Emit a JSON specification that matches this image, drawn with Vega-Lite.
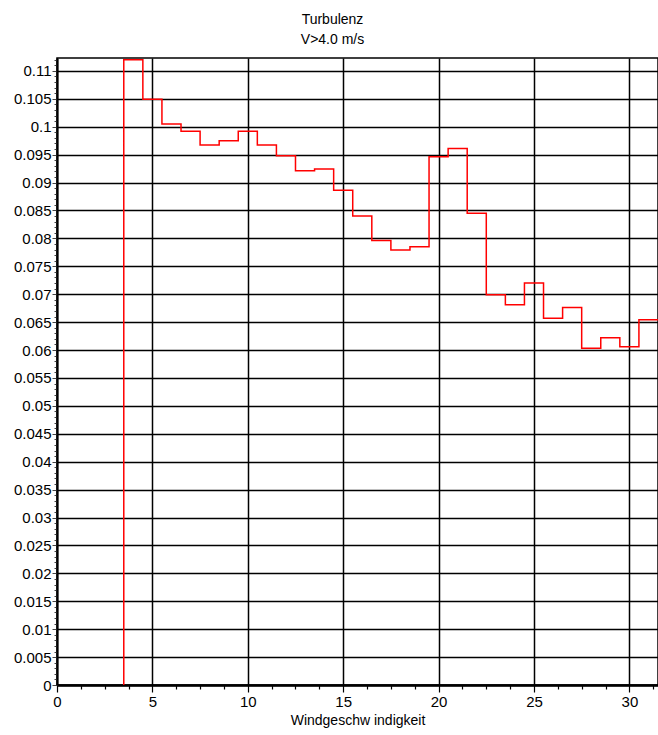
{
  "$schema": "https://vega.github.io/schema/vega-lite/v6.json",
  "autosize": "none",
  "width": 601,
  "height": 627,
  "padding": {"left": 57, "top": 58, "right": 0, "bottom": 50},
  "background": "white",
  "config": {
    "view": {"stroke": "black", "strokeWidth": 1.5},
    "font": "Liberation Sans"
  },
  "title": {
    "text": ["Turbulenz", "V>4.0 m/s"],
    "fontSize": 14,
    "fontWeight": "normal",
    "font": "Liberation Sans",
    "color": "black",
    "anchor": "middle",
    "dx": -25,
    "offset": 6,
    "lineHeight": 20
  },
  "data": {
    "values": [
      {"i": 0, "x": 3.5, "y": 0},
      {"i": 1, "x": 3.5, "y": 0.1120},
      {"i": 2, "x": 4.5, "y": 0.1049},
      {"i": 3, "x": 5.5, "y": 0.1005},
      {"i": 4, "x": 6.5, "y": 0.0992},
      {"i": 5, "x": 7.5, "y": 0.0967},
      {"i": 6, "x": 8.5, "y": 0.0975},
      {"i": 7, "x": 9.5, "y": 0.0992},
      {"i": 8, "x": 10.5, "y": 0.0967},
      {"i": 9, "x": 11.5, "y": 0.0948},
      {"i": 10, "x": 12.5, "y": 0.0921},
      {"i": 11, "x": 13.5, "y": 0.0924},
      {"i": 12, "x": 14.5, "y": 0.0886},
      {"i": 13, "x": 15.5, "y": 0.0840},
      {"i": 14, "x": 16.5, "y": 0.0796},
      {"i": 15, "x": 17.5, "y": 0.0779},
      {"i": 16, "x": 18.5, "y": 0.0785},
      {"i": 17, "x": 19.5, "y": 0.0946},
      {"i": 18, "x": 20.5, "y": 0.0961},
      {"i": 19, "x": 21.5, "y": 0.0845},
      {"i": 20, "x": 22.5, "y": 0.0699},
      {"i": 21, "x": 23.5, "y": 0.0681},
      {"i": 22, "x": 24.5, "y": 0.0720},
      {"i": 23, "x": 25.5, "y": 0.0657},
      {"i": 24, "x": 26.5, "y": 0.0676},
      {"i": 25, "x": 27.5, "y": 0.0603},
      {"i": 26, "x": 28.5, "y": 0.0622},
      {"i": 27, "x": 29.5, "y": 0.0606},
      {"i": 28, "x": 30.5, "y": 0.0654},
      {"i": 29, "x": 31.5, "y": 0.0654}
    ]
  },
  "mark": {"type": "line", "interpolate": "step-after", "color": "#ff0000", "strokeWidth": 1.5, "clip": true},
  "encoding": {
    "order": {"field": "i", "type": "quantitative"},
    "x": {
      "field": "x",
      "type": "quantitative",
      "scale": {"domain": [0, 31.5], "nice": false, "zero": false},
      "axis": {
        "title": "Windgeschw indigkeit",
        "titleFontSize": 14,
        "titleFontWeight": "normal",
        "titleColor": "black",
        "titleFont": "Liberation Sans",
        "titlePadding": 4,
        "values": [0, 1.25, 2.5, 3.75, 5, 6.25, 7.5, 8.75, 10, 11.25, 12.5, 13.75, 15, 16.25, 17.5, 18.75, 20, 21.25, 22.5, 23.75, 25, 26.25, 27.5, 28.75, 30, 31.25],
        "labelExpr": "datum.value % 5 == 0 ? format(datum.value, 'd') : ''",
        "labelFontSize": 15,
        "labelColor": "black",
        "labelFont": "Liberation Sans",
        "labelPadding": 2,
        "labelFlush": false,
        "labelOverlap": false,
        "grid": true,
        "gridColor": "black",
        "gridWidth": 1.5,
        "gridOpacity": {"condition": {"test": "datum.value % 5 == 0", "value": 1}, "value": 0},
        "tickColor": "black",
        "tickSize": {"condition": {"test": "datum.value % 5 == 0", "value": 7}, "value": 4},
        "tickWidth": 1.2,
        "domainColor": "black",
        "domainWidth": 2.5
      }
    },
    "y": {
      "field": "y",
      "type": "quantitative",
      "scale": {"domain": [0, 0.1123], "nice": false, "zero": false},
      "axis": {
        "title": null,
        "values": [0, 0.001, 0.002, 0.003, 0.004, 0.005, 0.006, 0.007, 0.008, 0.009, 0.01, 0.011, 0.012, 0.013, 0.014, 0.015, 0.016, 0.017, 0.018, 0.019, 0.02, 0.021, 0.022, 0.023, 0.024, 0.025, 0.026, 0.027, 0.028, 0.029, 0.03, 0.031, 0.032, 0.033, 0.034, 0.035, 0.036, 0.037, 0.038, 0.039, 0.04, 0.041, 0.042, 0.043, 0.044, 0.045, 0.046, 0.047, 0.048, 0.049, 0.05, 0.051, 0.052, 0.053, 0.054, 0.055, 0.056, 0.057, 0.058, 0.059, 0.06, 0.061, 0.062, 0.063, 0.064, 0.065, 0.066, 0.067, 0.068, 0.069, 0.07, 0.071, 0.072, 0.073, 0.074, 0.075, 0.076, 0.077, 0.078, 0.079, 0.08, 0.081, 0.082, 0.083, 0.084, 0.085, 0.086, 0.087, 0.088, 0.089, 0.09, 0.091, 0.092, 0.093, 0.094, 0.095, 0.096, 0.097, 0.098, 0.099, 0.1, 0.101, 0.102, 0.103, 0.104, 0.105, 0.106, 0.107, 0.108, 0.109, 0.11, 0.111, 0.112],
        "labelExpr": "abs(datum.value / 0.005 - round(datum.value / 0.005)) < 0.001 ? format(datum.value, '.3~f') : ''",
        "labelFontSize": 15,
        "labelColor": "black",
        "labelFont": "Liberation Sans",
        "labelPadding": 1,
        "labelOverlap": false,
        "labelFlush": false,
        "grid": true,
        "gridColor": "black",
        "gridWidth": 1.5,
        "gridOpacity": {"condition": {"test": "abs(datum.value / 0.005 - round(datum.value / 0.005)) < 0.001", "value": 1}, "value": 0},
        "tickColor": "#444444",
        "tickSize": {"condition": {"test": "abs(datum.value / 0.005 - round(datum.value / 0.005)) < 0.001", "value": 5}, "value": 3},
        "tickWidth": 1,
        "domainColor": "black",
        "domainWidth": 2
      }
    }
  }
}
